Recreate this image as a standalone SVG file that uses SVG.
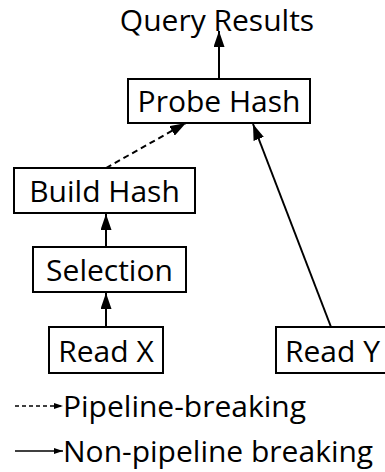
<svg xmlns="http://www.w3.org/2000/svg" width="385" height="472" viewBox="0 0 385 472">
<defs>
<style>
.box{fill:#fff;stroke:#000;stroke-width:2}
.t{font-family:"Open Sans","Noto Sans",sans-serif;font-size:30px;fill:#000}
.c{text-anchor:middle}
.e{fill:none;stroke:#000;stroke-width:2}
.d{stroke-dasharray:6 4}
.l{fill:none;stroke:#000;stroke-width:1.3}
</style>
<marker id="ah" viewBox="0 0 16 11" refX="16" refY="5.5" markerWidth="16" markerHeight="11" markerUnits="userSpaceOnUse" orient="auto">
<path d="M0,0 L16,5.5 L0,11 Z" fill="#000"/>
</marker>
<marker id="ahs" viewBox="0 0 9 6" refX="9" refY="3" markerWidth="9" markerHeight="6" markerUnits="userSpaceOnUse" orient="auto">
<path d="M0,0 L9,3 L0,6 Z" fill="#000"/>
</marker>
</defs>
<g id="query-results"><text class="t c" x="217" y="31">Query Results</text></g>
<g id="probe-hash"><rect class="box" x="128" y="79" width="182" height="44"/><text class="t c" x="219" y="112">Probe Hash</text></g>
<g id="build-hash"><rect class="box" x="14" y="168" width="181" height="45"/><text class="t c" x="104.5" y="202">Build Hash</text></g>
<g id="selection"><rect class="box" x="33" y="247" width="153" height="45"/><text class="t c" x="109.5" y="281">Selection</text></g>
<g id="read-x"><rect class="box" x="49" y="327" width="114" height="46"/><text class="t c" x="106" y="362">Read X</text></g>
<g id="read-y"><rect class="box" x="276" y="327" width="112" height="46"/><text class="t" x="285" y="362">Read Y</text></g>
<g id="connectors">
<line class="e" x1="219" y1="79" x2="219" y2="31" marker-end="url(#ah)"/>
<line class="e" x1="106" y1="247" x2="106" y2="214" marker-end="url(#ah)"/>
<line class="e" x1="106" y1="327" x2="106" y2="293" marker-end="url(#ah)"/>
<line class="e" x1="331" y1="327" x2="253" y2="124" marker-end="url(#ah)"/>
<line class="e d" x1="106" y1="168" x2="186" y2="123" marker-end="url(#ah)"/>
</g>
<g id="legend">
<line class="l d" x1="15" y1="406" x2="63" y2="406" marker-end="url(#ahs)" style="stroke-dasharray:4 3"/>
<text class="t" x="63" y="417">Pipeline-breaking</text>
<line class="l" x1="15" y1="451" x2="63" y2="451" marker-end="url(#ahs)"/>
<text class="t" x="63" y="462">Non-pipeline breaking</text>
</g>
</svg>
